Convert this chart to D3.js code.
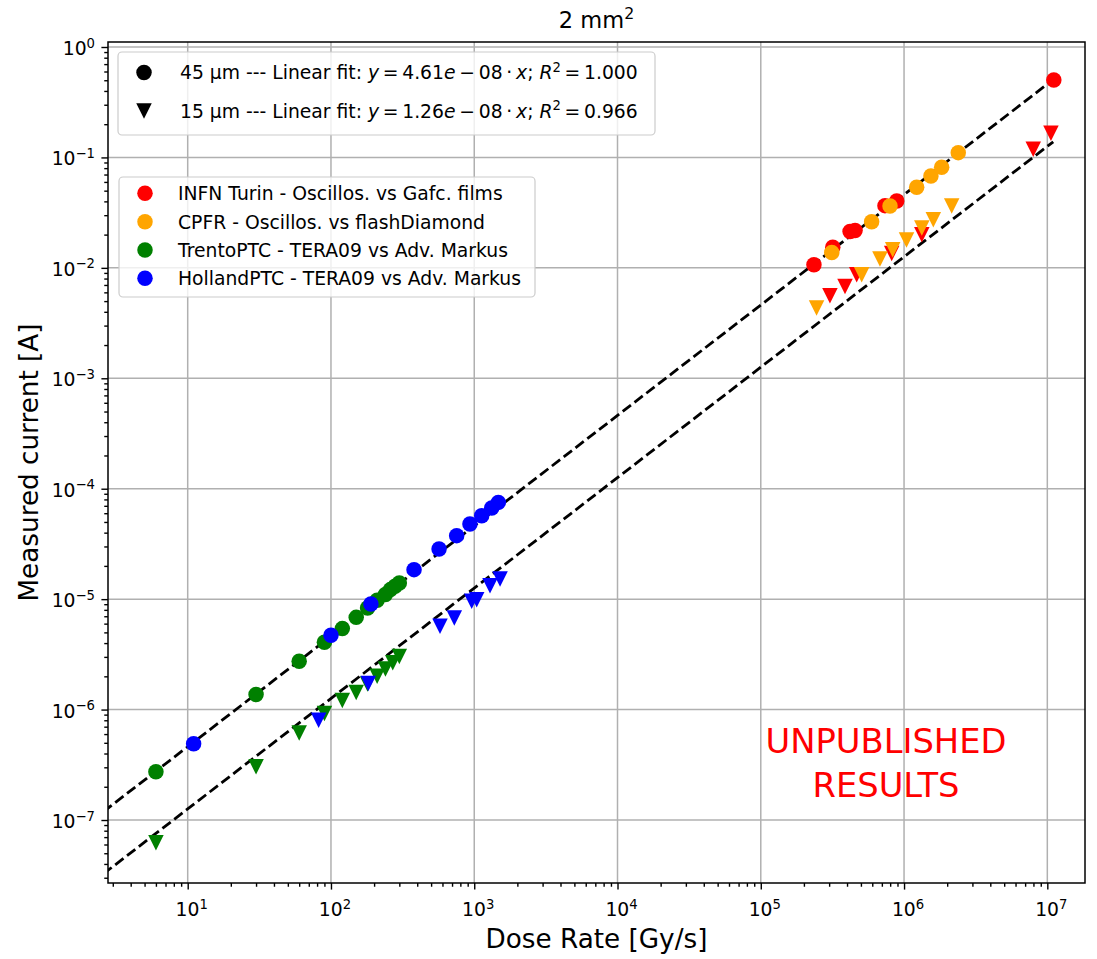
<!DOCTYPE html>
<html><head><meta charset="utf-8">
<script src="https://cdn.jsdelivr.net/npm/d3@7"></script>
<style>body{margin:0;background:#fff;} text{font-family:"DejaVu Sans",sans-serif;fill:#000;}</style>
</head><body><svg id="c" width="1097" height="959"></svg>
<script>
// ---------------- DATA ----------------
const turinX45 = [2.35e5, 3.18e5, 4.20e5, 4.55e5, 7.36e5, 8.89e5, 1.11e7];
const turinY45 = [0.01065, 0.0154, 0.0213, 0.0218, 0.0366, 0.0404, 0.503];
const turinX15 = [3.04e5, 3.87e5, 4.67e5, 8.2e5, 1.33e6, 7.98e6, 1.06e7];
const turinY15 = [0.00558, 0.00677, 0.00864, 0.0135, 0.0199, 0.1186, 0.1656];
const cpfrX45 = [3.13e5, 5.94e5, 7.98e5, 1.225e6, 1.54e6, 1.83e6, 2.39e6];
const cpfrY45 = [0.01375, 0.0262, 0.0364, 0.0537, 0.068, 0.0815, 0.1105];
const cpfrX15 = [2.45e5, 5.06e5, 6.79e5, 8.33e5, 1.04e6, 1.33e6, 1.60e6, 2.15e6];
const cpfrY15 = [0.00432, 0.00864, 0.0120, 0.0146, 0.0179, 0.0229, 0.0272, 0.0364];
const trentoX45 = [6, 30, 60, 90, 120, 150, 180, 210, 240, 260, 280, 300];
const trentoY45 = [2.73e-7, 1.37e-6, 2.74e-6, 4.07e-6, 5.41e-6, 6.84e-6, 8.32e-6, 9.76e-6, 1.10e-5, 1.22e-5, 1.31e-5, 1.40e-5];
const trentoX15 = [6, 30, 60, 90, 120, 150, 180, 210, 240, 270, 300];
const trentoY15 = [6.22e-8, 3.03e-7, 6.15e-7, 9.2e-7, 1.21e-6, 1.43e-6, 1.70e-6, 2.0e-6, 2.33e-6, 2.65e-6, 3.03e-6];
const hollandX45 = [11, 100, 190, 380, 568, 754, 933, 1127, 1324, 1473];
const hollandY45 = [4.9e-7, 4.70e-6, 9.05e-6, 1.85e-5, 2.85e-5, 3.76e-5, 4.80e-5, 5.70e-5, 6.69e-5, 7.52e-5];
const hollandX15 = [82, 182, 577, 726, 960, 1040, 1288, 1514];
const hollandY15 = [8.0e-7, 1.72e-6, 5.67e-6, 6.76e-6, 9.55e-6, 9.9e-6, 1.32e-5, 1.52e-5];

const seriesNames = ["INFN Turin - Oscillos. vs Gafc. films", "CPFR - Oscillos. vs flashDiamond",
  "TrentoPTC - TERA09 vs Adv. Markus", "HollandPTC - TERA09 vs Adv. Markus"];
const seriesColors = ["#ff0000", "#ffa500", "#008000", "#0000ff"];

const fitSlopes = [4.61e-8, 1.26e-8];
const fitRange = [1, 1.1e7];
const fitLabels = [
  {thick: "45 µm", coef: "4.61", r2: "1.000"},
  {thick: "15 µm", coef: "1.26", r2: "0.966"}
];

const xMajorExp = [1, 2, 3, 4, 5, 6, 7];
const yMajorExp = [-7, -6, -5, -4, -3, -2, -1, 0];
const titleText = "2 mm";
const xLabelText = "Dose Rate [Gy/s]";
const yLabelText = "Measured current [A]";
const watermark = ["UNPUBLISHED", "RESULTS"];

// ---------------- LAYOUT ----------------
const L = 108, R = 1085, T = 42, B = 883;
const svg = d3.select("#c");
const x = d3.scaleLog().domain([Math.pow(10, 0.4437), Math.pow(10, 7.263)]).range([L, R]);
const y = d3.scaleLog().domain([Math.pow(10, -7.5705), Math.pow(10, 0.0453)]).range([B, T]);

svg.append("defs").append("clipPath").attr("id", "clip")
  .append("rect").attr("x", L).attr("y", T).attr("width", R - L).attr("height", B - T);

function minors(scale) {
  const [a, b] = scale.domain();
  const out = [];
  for (let e = Math.floor(Math.log10(a)); e <= Math.ceil(Math.log10(b)); e++) {
    for (let m = 2; m <= 9; m++) {
      const v = m * Math.pow(10, e);
      if (v >= a && v <= b) out.push(v);
    }
  }
  return out;
}
const xMajor = xMajorExp.map(e => Math.pow(10, e));
const yMajor = yMajorExp.map(e => Math.pow(10, e));

// grid
const grid = svg.append("g");
grid.selectAll(".gx").data(xMajor).enter().append("line")
  .attr("x1", d => x(d)).attr("x2", d => x(d)).attr("y1", T).attr("y2", B)
  .attr("stroke", "#b0b0b0").attr("stroke-width", 1.5);
grid.selectAll(".gy").data(yMajor).enter().append("line")
  .attr("y1", d => y(d)).attr("y2", d => y(d)).attr("x1", L).attr("x2", R)
  .attr("stroke", "#b0b0b0").attr("stroke-width", 1.5);

function styleAxis(g) {
  g.select(".domain").remove();
  g.selectAll(".tick line").attr("stroke", "#000").attr("stroke-width", 1.4);
  g.selectAll(".tick text").remove();
}
svg.append("g").attr("transform", `translate(0,${B})`)
  .call(d3.axisBottom(x).tickValues(xMajor).tickSize(6.6).tickFormat(() => "")).call(styleAxis);
svg.append("g").attr("transform", `translate(0,${B})`)
  .call(d3.axisBottom(x).tickValues(minors(x)).tickSize(3.75).tickFormat(() => "")).call(styleAxis);
svg.append("g").attr("transform", `translate(${L},0)`)
  .call(d3.axisLeft(y).tickValues(yMajor).tickSize(6.6).tickFormat(() => "")).call(styleAxis);
svg.append("g").attr("transform", `translate(${L},0)`)
  .call(d3.axisLeft(y).tickValues(minors(y)).tickSize(3.75).tickFormat(() => "")).call(styleAxis);

function powLabel(sel, exp) {
  sel.append("tspan").text("10");
  sel.append("tspan").attr("font-size", "13.2px").attr("dy", -7.5)
    .text(exp < 0 ? "\u2212" + Math.abs(exp) : String(exp));
}
xMajorExp.forEach(e => {
  const t = svg.append("text").attr("x", x(Math.pow(10, e)) + 4).attr("y", 916)
    .attr("text-anchor", "middle").attr("font-size", "18.75px");
  powLabel(t, e);
});
yMajorExp.forEach(e => {
  const t = svg.append("text").attr("x", 95).attr("y", y(Math.pow(10, e)) + 8)
    .attr("text-anchor", "end").attr("font-size", "18.75px");
  powLabel(t, e);
});

// fit lines
const plot = svg.append("g").attr("clip-path", "url(#clip)");
const lineGen = d3.line().x(d => x(d[0])).y(d => y(d[1]));
fitSlopes.forEach(s => {
  plot.append("path").datum(fitRange.map(v => [v, s * v]))
    .attr("d", lineGen).attr("fill", "none").attr("stroke", "#000")
    .attr("stroke-width", 2.8).attr("stroke-dasharray", "10.4,4.5");
});

// markers
const MS = 15.5;
const triPath = `M${-MS/2},${-MS/2}L${MS/2},${-MS/2}L0,${MS/2}Z`;
function circles(g, xs, ys, color) {
  g.selectAll(null).data(xs.map((v, i) => [v, ys[i]])).enter().append("circle")
    .attr("cx", d => x(d[0])).attr("cy", d => y(d[1])).attr("r", MS / 2).attr("fill", color);
}
function triangles(g, xs, ys, color) {
  g.selectAll(null).data(xs.map((v, i) => [v, ys[i]])).enter().append("path")
    .attr("d", triPath).attr("transform", d => `translate(${x(d[0])},${y(d[1])})`).attr("fill", color);
}
const sets = [
  [turinX45, turinY45, turinX15, turinY15],
  [cpfrX45, cpfrY45, cpfrX15, cpfrY15],
  [trentoX45, trentoY45, trentoX15, trentoY15],
  [hollandX45, hollandY45, hollandX15, hollandY15]
];
sets.forEach((s, i) => {
  circles(plot, s[0], s[1], seriesColors[i]);
  triangles(plot, s[2], s[3], seriesColors[i]);
});

svg.append("rect").attr("x", L).attr("y", T).attr("width", R - L).attr("height", B - T)
  .attr("fill", "none").attr("stroke", "#000").attr("stroke-width", 1.5);

// legend 1 (fits)
const TS = "\u2009";
const lg1 = svg.append("g");
lg1.append("rect").attr("x", 118).attr("y", 52).attr("width", 537).attr("height", 83)
  .attr("rx", 4).attr("fill", "#fff").attr("fill-opacity", 0.8).attr("stroke", "#cccccc").attr("stroke-width", 1.2);
const lg1Rows = [72.5, 111];
fitLabels.forEach((f, i) => {
  const cy = lg1Rows[i];
  if (i === 0) lg1.append("circle").attr("cx", 144).attr("cy", cy).attr("r", MS / 2).attr("fill", "#000");
  else lg1.append("path").attr("d", triPath).attr("transform", `translate(144,${cy})`).attr("fill", "#000");
  const t = lg1.append("text").attr("x", 180).attr("y", cy + 6.8).attr("font-size", "18.75px");
  t.append("tspan").text(f.thick + " --- Linear fit: ");
  t.append("tspan").attr("font-style", "italic").text("y");
  t.append("tspan").text(TS + "=" + TS + f.coef);
  t.append("tspan").attr("font-style", "italic").text("e");
  t.append("tspan").text(TS + "\u2212" + TS + "08" + TS + "\u00b7" + TS);
  t.append("tspan").attr("font-style", "italic").text("x");
  t.append("tspan").text("; ");
  t.append("tspan").attr("font-style", "italic").text("R");
  t.append("tspan").attr("font-size", "13.2px").attr("dy", -7.5).text("2");
  t.append("tspan").attr("dy", 7.5).text(TS + "=" + TS + f.r2);
});

// legend 2 (series)
const lg2 = svg.append("g");
lg2.append("rect").attr("x", 119).attr("y", 177).attr("width", 416).attr("height", 120)
  .attr("rx", 4).attr("fill", "#fff").attr("fill-opacity", 0.8).attr("stroke", "#cccccc").attr("stroke-width", 1.2);
const lg2Rows = [193.3, 221.7, 250, 278.3];
seriesNames.forEach((n, i) => {
  lg2.append("circle").attr("cx", 145).attr("cy", lg2Rows[i]).attr("r", MS / 2).attr("fill", seriesColors[i]);
  lg2.append("text").attr("x", 178).attr("y", lg2Rows[i] + 6.8).attr("font-size", "18.75px").text(n);
});

// title
const tt = svg.append("text").attr("x", (L + R) / 2).attr("y", 28).attr("text-anchor", "middle").attr("font-size", "22.5px");
tt.append("tspan").text(titleText);
tt.append("tspan").attr("font-size", "15.75px").attr("dy", -9).text("2");

// axis labels
svg.append("text").attr("x", (L + R) / 2).attr("y", 948).attr("text-anchor", "middle")
  .attr("font-size", "26.25px").text(xLabelText);
svg.append("text").attr("transform", `translate(38,${(T + B) / 2}) rotate(-90)`).attr("text-anchor", "middle")
  .attr("font-size", "26.25px").text(yLabelText);

// watermark
watermark.forEach((w, i) => {
  svg.append("text").attr("x", 886).attr("y", 753 + i * 44).attr("text-anchor", "middle")
    .attr("font-size", "33.75px").style("fill", "#ff0000").text(w);
});
</script></body></html>
